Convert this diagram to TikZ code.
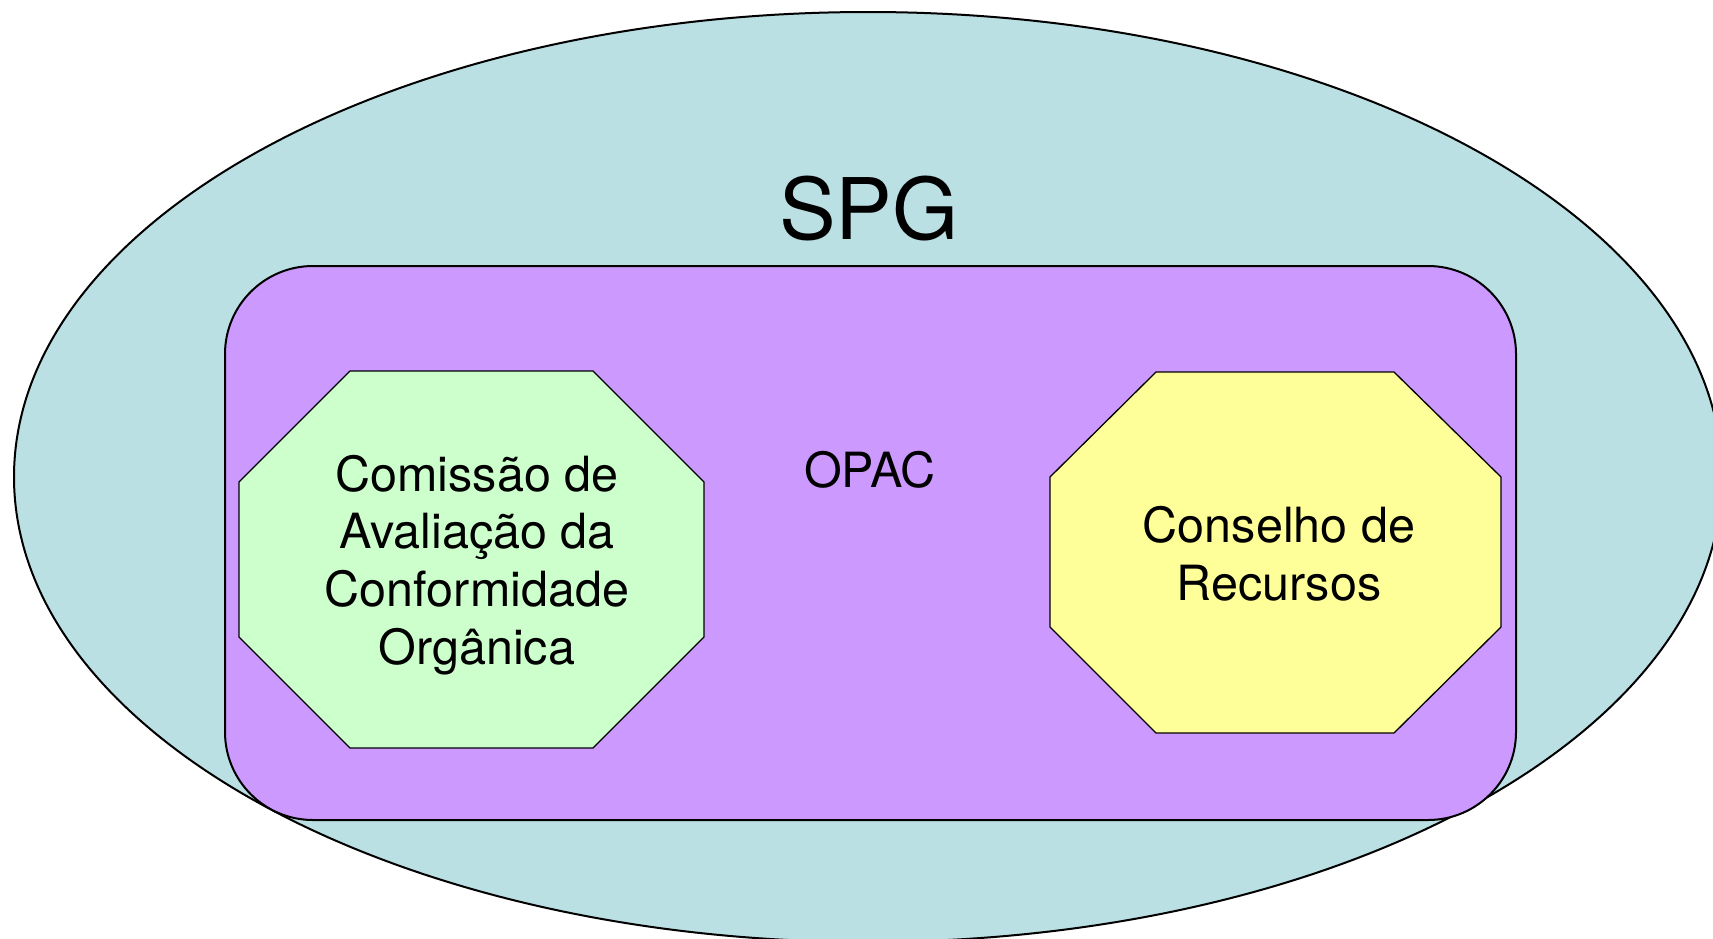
\documentclass[tikz,border=0pt]{standalone}
\usepackage{fontspec}
\setmainfont{TeX Gyre Heros}
\definecolor{spgblue}{RGB}{187,224,227}
\definecolor{opacpurple}{RGB}{204,153,255}
\definecolor{cacgreen}{RGB}{204,255,204}
\definecolor{cryellow}{RGB}{255,255,153}
\tikzset{
  spgshape/.style={draw=black, line width=2pt, fill=spgblue},
  opacshape/.style={draw=black, line width=2pt, fill=opacpurple, rounded corners=88pt},
  octshape/.style={draw=black, line width=1.3pt, line join=miter},
  bodytext/.style={font=\fontsize{48.5}{57.7}\selectfont, align=center, inner sep=0pt},
  titletext/.style={font=\fontsize{85}{100}\selectfont, inner sep=0pt}
}
\begin{document}
\begin{tikzpicture}[x=1pt,y=-1pt]
\useasboundingbox (0,0) rectangle (1713,938);
\begin{scope}
  \clip (0,0) rectangle (1713,938);
  \draw[spgshape] (868,477) ellipse [x radius=854, y radius=465];
\end{scope}
\node[titletext, anchor=base] (spg) at (869,239) {SPG};
\draw[opacshape] (225,266) rectangle (1516,820);
\node[bodytext, anchor=base] (opac) at (870,487) {OPAC};
\draw[octshape, fill=cacgreen] (350,371) -- (593,371) -- (704,482) -- (704,637) -- (593,748) -- (350,748) -- (239,637) -- (239,482) -- cycle;
\draw[octshape, fill=cryellow] (1156,372) -- (1394,372) -- (1501,477) -- (1501,627) -- (1394,733) -- (1156,733) -- (1050,627) -- (1050,477) -- cycle;
\node[bodytext] (cac) at (477,565) {Comissão de\\Avaliação da\\Conformidade\\Orgânica};
\node[bodytext] (cr) at (1279,554) {Conselho de\\Recursos};
\end{tikzpicture}
\end{document}
